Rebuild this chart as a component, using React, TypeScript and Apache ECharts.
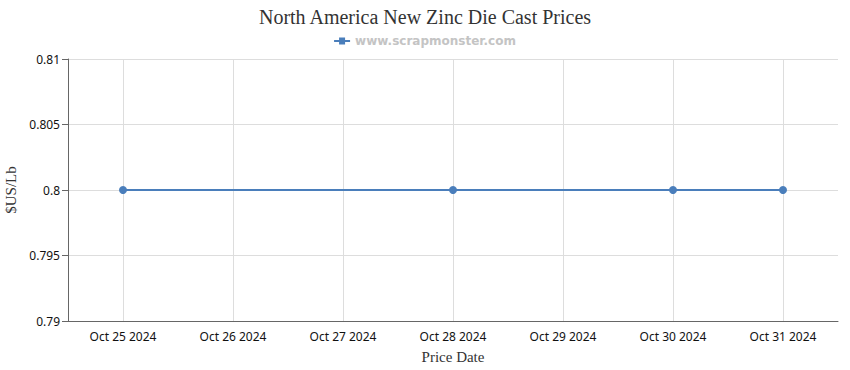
import React, { useEffect, useRef } from "react";
import * as echarts from "echarts";

const categories = ["Oct 25 2024", "Oct 26 2024", "Oct 27 2024", "Oct 28 2024", "Oct 29 2024", "Oct 30 2024", "Oct 31 2024"];
const prices: (number | null)[] = [0.8, null, null, 0.8, null, 0.8, 0.8];
const yMin = 0.79;
const yMax = 0.81;
const yInterval = 0.005;

export default function App() {
  const ref = useRef<HTMLDivElement>(null);
  useEffect(() => {
    if (!ref.current) return;
    const chart = echarts.init(ref.current, undefined, { renderer: "svg" });
    chart.setOption({
      animation: false,
      title: {
        text: "North America New Zinc Die Cast Prices",
        left: "center",
        top: 2,
        textStyle: { fontFamily: "Liberation Serif", fontSize: 20, fontWeight: "normal", color: "#333" },
      },
      legend: {
        top: 30,
        left: "center",
        itemWidth: 16,
        itemHeight: 8,
        itemGap: 5,
        data: [
          {
            name: "www.scrapmonster.com",
            icon: "path://M0,3L5,3L5,0.5L11,0.5L11,3L16,3L16,5L11,5L11,7.5L5,7.5L5,5L0,5Z",
          },
        ],
        textStyle: { fontFamily: "DejaVu Sans", fontSize: 12, fontWeight: "bold", color: "#c4c4c4" },
      },
      grid: { left: 68, right: 12, top: 59, bottom: 49, outerBoundsMode: "none", containLabel: false },
      xAxis: {
        type: "category",
        data: categories,
        boundaryGap: true,
        name: "Price Date",
        nameLocation: "middle",
        nameGap: 28,
        nameTextStyle: { fontFamily: "Liberation Serif", fontSize: 15, color: "#333" },
        axisLine: { lineStyle: { color: "#666" } },
        axisTick: { alignWithLabel: true, length: 5, lineStyle: { color: "#666" } },
        axisLabel: { fontFamily: "Noto Sans", fontSize: 12, color: "#111", margin: 9, interval: 0 },
        splitLine: { show: true, alignWithLabel: true, lineStyle: { color: "#dddddd" } },
      },
      yAxis: {
        type: "value",
        min: yMin,
        max: yMax,
        interval: yInterval,
        name: "$US/Lb",
        nameLocation: "middle",
        nameGap: 50,
        nameTextStyle: { fontFamily: "Liberation Serif", fontSize: 15, color: "#333" },
        axisLine: { show: true, lineStyle: { color: "#666" } },
        axisTick: { show: true, length: 6, lineStyle: { color: "#666" } },
        axisLabel: { fontFamily: "Noto Sans", fontSize: 12, color: "#111", margin: 8 },
        splitLine: { show: true, lineStyle: { color: "#dddddd" } },
      },
      series: [
        {
          name: "www.scrapmonster.com",
          type: "line",
          data: prices,
          connectNulls: true,
          symbol: "circle",
          symbolSize: 8,
          itemStyle: { color: "#4a7ebb" },
          lineStyle: { color: "#4a7ebb", width: 2 },
        },
      ],
    });
    return () => chart.dispose();
  }, []);
  return <div ref={ref} style={{ width: 850, height: 370, position: "absolute", left: 0, top: 0 }} />;
}
